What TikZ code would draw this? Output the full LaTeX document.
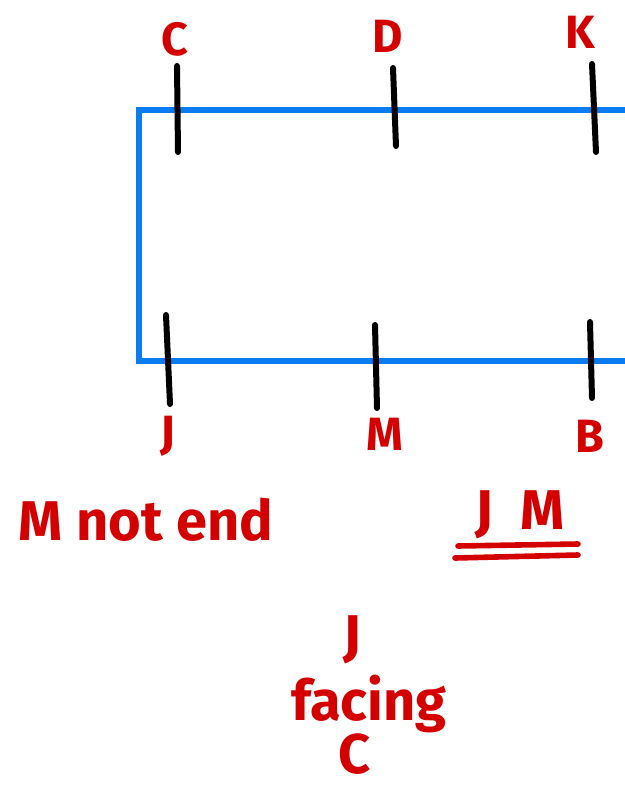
\documentclass[tikz,border=0pt]{standalone}
\usepackage{fontspec}
\setmainfont{Fira Sans}
\usetikzlibrary{positioning}
\definecolor{marcador}{RGB}{212,0,0}
\definecolor{azulmesa}{RGB}{10,123,240}
\tikzset{
    mesa/.style={draw=azulmesa, line width=4.5pt},
    silla/.style={draw=black, line width=4.5pt, line cap=round},
    rotulo/.style={text=marcador, font=\fontsize{35}{38}\selectfont\bfseries, inner sep=0pt},
    nota/.style={text=marcador, font=\fontsize{42}{46}\selectfont\bfseries, inner sep=0pt},
    subraya/.style={draw=marcador, line width=4.2pt, line cap=round},
}

\begin{document}
\begin{tikzpicture}[x=0.75pt,y=-0.75pt]
\useasboundingbox (0,0) rectangle (625,786);
% mesa
\draw[mesa] (625,110) -- (138.5,110) -- (138.5,361) -- (625,361);
% sillas de arriba
\foreach \n/\xa/\ya/\xb/\yb/\lx/\ly in {C/177/66/178/152/175/39, D/393/68/396/146/388/36, K/592/64/596/152/580/32} {
    \coordinate (a\n) at (\xa,\ya);
    \coordinate (b\n) at (\xb,\yb);
    \draw[silla] (a\n) -- (b\n);
    \node[rotulo] (l\n) at (\lx,\ly) {\n};
}
% sillas de abajo
\foreach \n/\xa/\ya/\xb/\yb/\lx/\ly in {J/166/315/170/404/168/436, M/375/325/377/408/385/434, B/590/322/592/398/590/436} {
    \coordinate (a\n) at (\xa,\ya);
    \coordinate (b\n) at (\xb,\yb);
    \draw[silla] (a\n) -- (b\n);
    \node[rotulo] (l\n) at (\lx,\ly) {\n};
}
% notas
\node[nota] (noend) at (146,520) {M not end};
\node[nota] (par) at (520,515) {J\hspace{0.5em}M};
\coordinate (s1) at (458,546);
\coordinate (s2) at (578,544);
\coordinate (s3) at (455,558);
\coordinate (s4) at (578,555);
\draw[subraya] (s1) -- (s2);
\draw[subraya] (s3) -- (s4);
\node[nota] (pj) at (352,640) {J};
\node[nota] (facing) at (369,704) {facing};
\node[nota] (pc) at (355,754) {C};
\end{tikzpicture}
\end{document}
